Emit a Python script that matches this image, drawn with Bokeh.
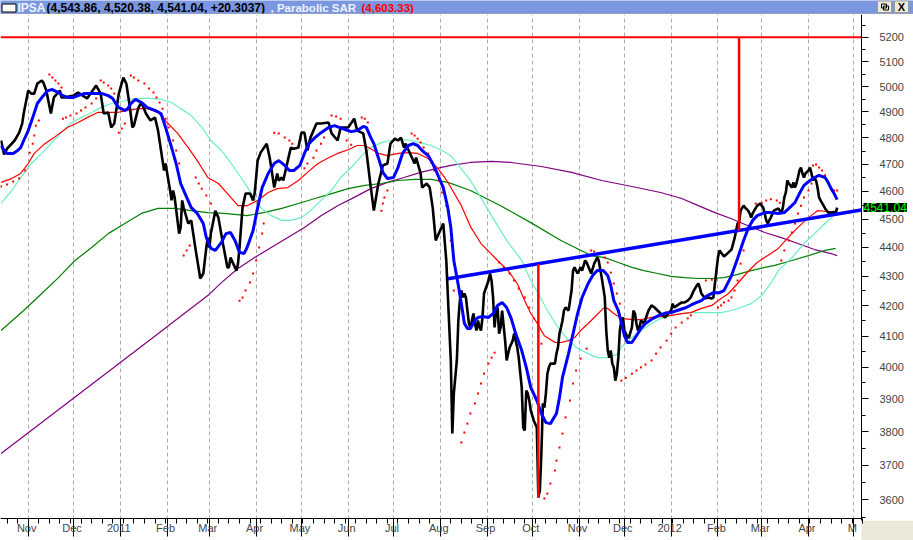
import numpy as np
import pandas as pd
from bokeh.plotting import figure
from bokeh.layouts import column
from bokeh.models import Range1d, FixedTicker, PrintfTickFormatter, Label
from bokeh.core.properties import value
from bokeh.embed import file_html
from bokeh.resources import INLINE

# ---------------- data (days counted from 2010-10-14) ----------------
BASE = pd.Timestamp("2010-10-14")

close_day = [0, 2, 4, 9, 12, 14, 15, 18, 20, 22, 24, 27, 28, 30, 33, 35, 39, 40, 42, 48, 51, 57, 63, 66, 68,
             71, 73, 75, 78, 81, 83, 85, 87, 88, 91, 93, 96, 99, 102, 104, 107, 108, 109, 112, 113, 114,
             115, 118, 119, 120, 121, 124, 126, 129, 132, 134, 136, 137, 138, 139, 142, 144, 147, 150,
             151, 152, 156, 157, 158, 159, 160, 162, 165, 167, 168, 169, 170, 172, 176, 178, 180, 181,
             183, 184, 186, 187, 190, 192, 194, 197, 199, 201, 203, 205, 209, 212, 217, 219, 223, 225,
             230, 234, 236, 240, 242, 245, 247, 250, 253, 256, 258, 261, 263, 265, 267, 268, 271, 274,
             275, 278, 279, 282, 284, 286, 288, 290, 293, 295, 297, 298, 299, 300, 302, 303, 304, 305,
             306, 307, 308, 309, 310, 311, 313, 314, 315, 316, 317, 318, 319, 320, 323, 324, 325, 326,
             327, 328, 329, 330, 331, 332, 334, 335, 336, 337, 339, 340, 341, 342, 343, 345, 346, 347,
             348, 349, 350, 351, 353, 355, 356, 357, 358, 359, 360, 361, 362, 363, 364, 367, 368, 369,
             370, 371, 372, 373, 374, 376, 377, 378, 379, 380, 381, 382, 384, 385, 387, 388, 391, 393,
             395, 396, 398, 400, 401, 402, 403, 404, 405, 406, 407, 408, 409, 410, 411, 412, 413, 414,
             415, 416, 418, 419, 420, 421, 422, 423, 424, 426, 429, 431, 433, 435, 437, 440, 442, 444,
             445, 446, 448, 451, 453, 455, 457, 459, 461, 462, 463, 464, 466, 467, 468, 471, 472, 473,
             474, 475, 476, 477, 479, 482, 484, 486, 488, 489, 490, 492, 493, 495, 496, 497, 498, 499,
             501, 503, 504, 505, 506, 507, 508, 509, 510, 512, 515, 516, 517, 518, 519, 520, 521, 522,
             524, 525, 526, 527, 528, 529, 530, 531, 532, 533, 535, 536, 537, 538, 539, 540, 541, 542,
             543, 545, 546, 548, 550, 552, 553, 554]
close_val = [4790, 4737, 4759, 4790, 4820, 4855, 4894, 4984, 4972, 4972, 5012, 5024, 5016, 4984, 4894,
             4957, 4984, 4957, 4957, 4964, 4976, 4953, 5004, 4972, 4894, 4898, 4840, 4855, 4972, 5036,
             5012, 4933, 4840, 4847, 4917, 4937, 4894, 4867, 4878, 4828, 4714, 4677, 4703, 4603, 4567,
             4603, 4578, 4448, 4470, 4567, 4541, 4484, 4495, 4389, 4292, 4309, 4399, 4434, 4399, 4448,
             4530, 4505, 4413, 4330, 4330, 4364, 4319, 4343, 4399, 4470, 4541, 4592, 4592, 4567, 4592,
             4651, 4714, 4744, 4778, 4725, 4651, 4614, 4666, 4640, 4651, 4640, 4714, 4763, 4759, 4763,
             4820, 4820, 4752, 4801, 4855, 4855, 4859, 4817, 4790, 4840, 4840, 4874, 4828, 4817, 4752,
             4614, 4530, 4629, 4696, 4703, 4778, 4797, 4790, 4801, 4763, 4778, 4741, 4703, 4725, 4666,
             4614, 4629, 4614, 4541, 4424, 4448, 4484, 4354, 4128, 4021, 3794, 3917, 4021, 4151, 4217,
             4251, 4228, 4241, 4228, 4184, 4141, 4128, 4174, 4141, 4118, 4151, 4128, 4118, 4161, 4241,
             4285, 4309, 4285, 4228, 4128, 4184, 4194, 4108, 4128, 4184, 4085, 4021, 4043, 4063, 4085,
             4108, 4085, 4063, 4030, 3935, 3812, 3803, 3926, 3917, 3895, 3864, 3833, 3812, 3606, 3626,
             3734, 3886, 3873, 3917, 3979, 3999, 4011, 4011, 4043, 4063, 4108, 4128, 4151, 4184, 4194,
             4184, 4217, 4251, 4319, 4330, 4319, 4309, 4330, 4319, 4354, 4347, 4309, 4343, 4364, 4354,
             4295, 4228, 4118, 4053, 4030, 4053, 4011, 3999, 3957, 3979, 4030, 4118, 4151, 4161, 4118,
             4108, 4095, 4095, 4128, 4184, 4174, 4141, 4118, 4128, 4151, 4141, 4184, 4201, 4194, 4184,
             4174, 4161, 4174, 4184, 4207, 4194, 4201, 4211, 4211, 4217, 4228, 4251, 4268, 4275, 4261,
             4241, 4228, 4224, 4228, 4224, 4228, 4275, 4319, 4364, 4389, 4382, 4368, 4382, 4392, 4431,
             4484, 4487, 4530, 4548, 4541, 4530, 4520, 4505, 4520, 4530, 4548, 4556, 4548, 4541, 4520,
             4495, 4484, 4495, 4505, 4530, 4538, 4530, 4520, 4541, 4578, 4596, 4640, 4629, 4614, 4633,
             4614, 4629, 4651, 4677, 4688, 4666, 4651, 4666, 4677, 4688, 4666, 4640, 4651, 4640, 4614,
             4578, 4567, 4548, 4538, 4523, 4523, 4525, 4521, 4541.04]

blue_day = [0, 2, 4, 8, 11, 13, 15, 18, 21, 24, 28, 31, 34, 38, 41, 44, 48, 51, 55, 64, 67, 71, 74, 76, 78,
            82, 84, 86, 89, 93, 97, 102, 106, 109, 113, 116, 119, 123, 126, 130, 134, 136, 139, 142, 146,
            149, 152, 155, 158, 161, 163, 167, 170, 173, 177, 181, 184, 188, 191, 194, 198, 201, 204, 208,
            212, 217, 221, 224, 228, 232, 236, 240, 242, 245, 247, 250, 253, 256, 260, 263, 266, 270, 273,
            276, 279, 283, 286, 289, 293, 296, 298, 300, 303, 305, 307, 309, 311, 314, 316, 319, 323, 326,
            329, 332, 335, 338, 341, 345, 348, 351, 355, 358, 361, 364, 368, 370, 372, 376, 379, 382, 385,
            389, 392, 395, 399, 402, 404, 406, 409, 411, 413, 415, 418, 421, 424, 427, 432, 436, 441, 444,
            448, 454, 459, 464, 468, 472, 476, 479, 484, 488, 492, 495, 498, 501, 506, 510, 515, 519, 522,
            526, 529, 532, 536, 539, 542, 546, 548, 550, 552, 554]
blue_val = [4771, 4752, 4741, 4741, 4752, 4763, 4790, 4828, 4878, 4933, 4964, 4984, 4988, 4976, 4964, 4957,
            4957, 4964, 4972, 4972, 4972, 4964, 4953, 4933, 4917, 4906, 4913, 4933, 4949, 4937, 4917, 4906,
            4894, 4840, 4763, 4703, 4629, 4578, 4541, 4520, 4484, 4434, 4396, 4389, 4417, 4448, 4452, 4424,
            4382, 4378, 4399, 4459, 4541, 4614, 4666, 4703, 4714, 4696, 4677, 4677, 4696, 4741, 4778, 4801,
            4820, 4840, 4847, 4840, 4832, 4824, 4828, 4844, 4840, 4801, 4778, 4725, 4670, 4647, 4651, 4688,
            4741, 4771, 4778, 4771, 4752, 4733, 4703, 4666, 4614, 4541, 4470, 4354, 4268, 4207, 4141, 4125,
            4125, 4151, 4161, 4164, 4161, 4174, 4201, 4211, 4194, 4158, 4108, 4053, 3999, 3935, 3895, 3855,
            3827, 3824, 3855, 3904, 3967, 4043, 4108, 4174, 4228, 4275, 4302, 4319, 4319, 4302, 4268, 4217,
            4184, 4144, 4101, 4079, 4079, 4101, 4125, 4141, 4158, 4168, 4177, 4177, 4184, 4194, 4207, 4217,
            4234, 4244, 4244, 4251, 4302, 4361, 4424, 4466, 4495, 4512, 4523, 4523, 4520, 4523, 4538, 4559,
            4592, 4622, 4640, 4651, 4659, 4651, 4633, 4610, 4592, 4570]

red_day = [0, 7, 13, 18, 22, 29, 35, 44, 51, 57, 64, 77, 84, 91, 97, 104, 110, 117, 124, 130, 137, 144,
           150, 157, 163, 170, 177, 183, 190, 197, 203, 210, 217, 223, 230, 236, 241, 245, 250, 256, 263,
           270, 276, 283, 289, 294, 298, 305, 311, 318, 329, 336, 342, 347, 351, 355, 360, 367, 371, 376,
           380, 384, 389, 393, 399, 402, 406, 411, 418, 424, 431, 437, 444, 451, 457, 464, 471, 475, 482,
           488, 495, 501, 508, 515, 521, 528, 535, 541, 548, 554]
red_val = [4633, 4647, 4666, 4703, 4741, 4778, 4801, 4840, 4859, 4878, 4898, 4898, 4906, 4913, 4913, 4898,
           4859, 4817, 4763, 4714, 4651, 4629, 4592, 4548, 4548, 4567, 4596, 4610, 4614, 4640, 4670, 4703,
           4725, 4741, 4755, 4771, 4771, 4759, 4741, 4733, 4741, 4744, 4741, 4722, 4688, 4651, 4614, 4548,
           4473, 4413, 4354, 4319, 4275, 4217, 4174, 4144, 4101, 4079, 4079, 4085, 4095, 4118, 4141, 4161,
           4191, 4191, 4174, 4158, 4154, 4154, 4161, 4164, 4168, 4174, 4177, 4191, 4201, 4217, 4241, 4275,
           4316, 4347, 4371, 4396, 4431, 4470, 4505, 4530, 4527, 4523]

aqua_day = [0, 7, 13, 20, 27, 33, 40, 46, 53, 60, 66, 73, 80, 86, 93, 99, 106, 113, 119, 126, 133, 139,
            146, 152, 159, 166, 172, 179, 186, 192, 199, 205, 212, 219, 225, 232, 239, 245, 252, 258, 265,
            272, 278, 285, 292, 298, 311, 325, 335, 345, 351, 356, 362, 369, 376, 382, 389, 395, 402, 409,
            411, 418, 424, 431, 437, 444, 451, 457, 471, 477, 484, 490, 497, 504, 510, 515, 524, 532, 539,
            546, 550, 553]
aqua_val = [4556, 4603, 4651, 4703, 4741, 4778, 4820, 4855, 4878, 4898, 4917, 4933, 4941, 4949, 4953, 4953,
            4949, 4937, 4913, 4886, 4840, 4790, 4752, 4707, 4651, 4592, 4541, 4512, 4495, 4495, 4505, 4530,
            4567, 4603, 4651, 4688, 4733, 4763, 4782, 4790, 4793, 4790, 4782, 4771, 4752, 4733, 4640, 4512,
            4424, 4354, 4285, 4241, 4184, 4128, 4085, 4060, 4043, 4030, 4030, 4043, 4063, 4095, 4118, 4141,
            4158, 4168, 4174, 4177, 4177, 4177, 4184, 4194, 4207, 4234, 4275, 4319, 4364, 4413, 4448, 4484,
            4505, 4523]

green_day = [0, 15, 27, 38, 49, 60, 71, 82, 93, 104, 115, 126, 137, 148, 163, 174, 186, 197, 208, 219, 230,
             241, 252, 263, 274, 285, 296, 311, 331, 351, 371, 391, 400, 409, 418, 426, 435, 444, 453, 462,
             471, 479, 488, 497, 506, 512, 524, 535, 546, 553]
green_val = [4118, 4184, 4241, 4295, 4354, 4399, 4448, 4484, 4520, 4538, 4538, 4530, 4523, 4520, 4512, 4523,
             4538, 4556, 4574, 4592, 4610, 4622, 4629, 4640, 4644, 4644, 4633, 4603, 4548, 4487, 4424, 4371,
             4364, 4347, 4330, 4319, 4309, 4299, 4295, 4292, 4292, 4295, 4306, 4319, 4330, 4336, 4354, 4371,
             4389, 4396]

purple_day = [0, 33, 66, 99, 124, 137, 146, 157, 168, 179, 190, 201, 212, 223, 234, 245, 256, 267, 278, 289,
              298, 311, 325, 338, 358, 378, 398, 418, 437, 451, 462, 473, 484, 495, 506, 517, 528, 539, 550,
              554]
purple_val = [3734, 3849, 3967, 4089, 4184, 4234, 4278, 4326, 4364, 4399, 4434, 4470, 4512, 4548, 4578, 4610,
              4633, 4651, 4670, 4685, 4696, 4707, 4711, 4707, 4692, 4670, 4640, 4618, 4596, 4574, 4548, 4523,
              4501, 4476, 4452, 4434, 4413, 4392, 4378, 4371]

sar_day = [0, 4, 8, 12, 16, 19, 21, 22, 23, 25,
           32, 34, 36, 38, 40,
           41, 43, 46, 50, 53, 56, 60, 63,
           66, 68, 71, 73, 75,
           78, 80, 82,
           86, 88, 91, 95, 98, 101, 103, 105, 107, 109, 111, 114, 116, 118,
           121, 123, 125,
           129, 131, 133, 136, 139,
           158, 160, 162, 165, 167, 169, 171, 173, 174,
           181, 184, 188, 191, 193, 197,
           201, 203, 207, 209, 212, 214,
           219, 222, 225,
           229, 232,
           239, 241, 243,
           252, 253, 254, 256,
           272, 274, 276, 278, 280, 283, 285, 287, 290, 292, 295, 298, 300,
           305, 307, 309, 311, 314, 316, 318, 320, 323, 325, 327,
           330, 333, 337, 340, 343, 347, 350, 353, 356, 358,
           360, 362, 364, 367, 368, 370, 372, 374, 377, 379, 381, 384, 388,
           391, 393, 396, 400, 402, 404, 406, 408, 410,
           411, 414, 418, 421, 424, 427, 431, 434, 437, 441, 444, 447, 451, 455, 457,
           467, 471,
           475, 477, 479, 482, 484, 486, 488, 490, 492,
           500, 504, 507, 510, 514, 516,
           517, 519, 522, 524, 526, 528, 530, 532, 535, 537,
           538, 540, 542, 544, 546, 548, 550, 552, 554]
sar_val = [4618, 4625, 4636, 4647, 4677, 4744, 4778, 4809, 4847, 4867,
           5048, 5036, 5024, 5012, 4996,
           4874, 4878, 4886, 4894, 4906, 4917, 4933, 4953,
           5024, 5016, 5004, 4992, 4972,
           4820, 4836, 4855,
           5044, 5036, 5024, 5012, 4992, 4976, 4957, 4937, 4913, 4874, 4840, 4790, 4752, 4703,
           4371, 4389, 4406,
           4651, 4629, 4610, 4585, 4556,
           4217, 4228, 4251, 4278, 4309, 4354, 4399, 4448, 4484,
           4820, 4817, 4801, 4790, 4778, 4763,
           4685, 4703, 4725, 4752, 4778, 4801,
           4886, 4882, 4874,
           4790, 4774,
           4878, 4874, 4859,
           4530, 4556, 4578, 4603,
           4817, 4809, 4797, 4782, 4763, 4741, 4707, 4677, 4640, 4596, 4548, 4424, 4251,
           3767, 3797, 3824, 3855, 3886, 3917, 3948, 3979, 4011, 4030, 4046,
           4347, 4330, 4309, 4285, 4258, 4228, 4194, 4158, 4118, 4075,
           3603, 3617, 3646, 3684, 3713, 3752, 3794, 3843, 3895, 3948, 3989, 4027, 4059,
           4389, 4385, 4378, 4364, 4347, 4312, 4275, 4241, 4207,
           3957, 3966, 3979, 3989, 3999, 4008, 4021, 4043, 4063, 4085, 4108, 4128, 4144, 4158, 4168,
           4285, 4288,
           4194, 4201, 4211, 4217, 4228, 4251, 4285, 4343, 4389,
           4556, 4559, 4567, 4571, 4567, 4559,
           4354, 4389, 4424, 4452, 4484, 4520, 4548, 4578, 4603, 4629,
           4696, 4699, 4688, 4677, 4659, 4633, 4610, 4603, 4603.33]

neck_day = [296, 570]
neck_val = [4291, 4532]
target_level = 5200
target_day = [356, 489]
target_top = [4342, 5200]
target_bottom = [3606, 4459]

last_close = 4541.04
title_name = "IPSA"
title_ohlc = "(4,543.86, 4,520.38, 4,541.04, +20.3037)"
title_ind = ", Parabolic SAR"
title_sar = "(4,603.33)"

month_starts = pd.date_range("2010-11-01", "2012-05-01", freq="MS")
month_labels = ["Nov", "Dec", "2011", "Feb", "Mar", "Apr", "May", "Jun", "Jul", "Aug", "Sep", "Oct",
                "Nov", "Dec", "2012", "Feb", "Mar", "Apr", "M"]
week_ticks = pd.date_range("2010-10-18", "2012-05-07", freq="W-MON")
price_ticks = list(range(3600, 5201, 100))
price_minor = list(range(3550, 5251, 50))


def dates(days):
    return BASE + pd.to_timedelta(np.asarray(days, dtype=float), unit="D")


def ms(ts):
    return int(pd.Timestamp(ts).timestamp() * 1000)


# ---------------- layout ----------------
W, H = 913, 540
TH = 14
RB = 52            # width of the price-scale area right of the axis line
FW = W - RB        # width of the chart area
FONT_NAME = "Liberation Sans"
FONT = value(FONT_NAME)

tb = figure(width=W, height=TH, x_range=Range1d(0, W), y_range=Range1d(TH, 0),
            output_backend="svg", toolbar_location=None, min_border=0,
            x_axis_location=None, y_axis_location=None,
            background_fill_color="#7a97df", border_fill_color="#7a97df", outline_line_color=None)
tb.grid.visible = False
tb.quad(left=1.5, right=15.5, top=3.5, bottom=11.5, fill_color="white", line_color="black", line_width=1)
tb.text(x=[17, 46], y=[7, 7], text=[title_name, title_ohlc],
        text_color=["#eef2ff", "black"],
        text_font=FONT, text_font_style="bold", text_font_size="12px", text_baseline="middle")
tb.text(x=[270, 361], y=[7, 7], text=[title_ind, title_sar],
        text_color=["#eef2ff", "red"],
        text_font=FONT, text_font_style="bold", text_font_size="11.5px", text_baseline="middle")
tb.quad(left=[877, 894], right=[891, 908], top=[0.5, 0.5], bottom=[12, 12],
        fill_color="#ece9d8", line_color="#9a9a9a")
tb.quad(left=[881, 883], right=[886, 888], top=[3.5, 5.5], bottom=[7.5, 9.5],
        fill_color=None, line_color="black", line_width=1)
tb.text(x=[901], y=[6.5], text=["X"], text_font=FONT, text_font_style="bold",
        text_font_size="11px", text_align="center", text_baseline="middle", text_color="black")
tb.segment(x0=[0], y0=[13.5], x1=[W], y1=[13.5], line_color="#a8a8a8", line_width=1)

x_start = pd.Timestamp("2010-10-13 15:00")
x_axis_at = pd.Timestamp("2012-05-06 03:00")          # date under the price-scale line
x_end = x_start + (x_axis_at - x_start) * (W / FW)     # canvas extends under the price scale
y_axis_at = 3546                                       # price level of the time-axis line
y_low, y_high = 3484.5, 5295                           # canvas extends under the time axis
corner_top = 3540

p = figure(width=W, height=H - TH, x_axis_type="datetime", y_axis_type="log",
           x_range=Range1d(x_start, x_end), y_range=Range1d(y_low, y_high),
           y_axis_location="right", output_backend="svg", toolbar_location=None,
           min_border_left=0, min_border_right=0, min_border_top=0, min_border_bottom=0,
           background_fill_color="white", border_fill_color="white", outline_line_color=None)

# time axis
xa = p.xaxis[0]
xa.fixed_location = y_axis_at
xa.ticker = FixedTicker(ticks=[ms(t) for t in month_starts], minor_ticks=[ms(t) for t in week_ticks])
xa.major_label_overrides = {ms(t): " " + lab for t, lab in zip(month_starts, month_labels)}
xa.bounds = (ms(x_start), ms(x_axis_at))
xa.major_label_text_align = "left"
xa.major_label_standoff = -15
xa.major_tick_out = 18
xa.major_tick_in = 0
xa.minor_tick_out = 5
xa.minor_tick_in = 0
xa.major_label_text_font = FONT_NAME
xa.major_label_text_font_size = "11px"
xa.axis_line_color = "black"
xa.major_tick_line_color = "black"
xa.minor_tick_line_color = "black"

# price axis
ya = p.yaxis[0]
ya.fixed_location = ms(x_axis_at)
ya.bounds = (corner_top, y_high)
ya.ticker = FixedTicker(ticks=price_ticks, minor_ticks=price_minor)
ya.formatter = PrintfTickFormatter(format="%d")
ya.major_tick_out = 7
ya.major_tick_in = 0
ya.minor_tick_out = 4
ya.minor_tick_in = 0
ya.major_label_standoff = 11
ya.major_label_text_font = FONT_NAME
ya.major_label_text_font_size = "11px"
ya.axis_line_color = "black"

p.xgrid.grid_line_color = "#acacac"
p.xgrid.grid_line_dash = "4 3"
p.ygrid.visible = False

# strip under the time axis stays blank; grey corner box right of it
p.quad(left=[x_start], right=[x_axis_at], bottom=[y_low], top=[y_axis_at],
       fill_color="white", line_color=None)
p.quad(left=[x_axis_at], right=[x_end], bottom=[y_low], top=[corner_top],
       fill_color="#ece9d8", line_color=None)

# moving averages
p.line(dates(purple_day), purple_val, line_color="#800080", line_width=1.2)
p.line(dates(green_day), green_val, line_color="#008000", line_width=1.2)
p.line(dates(aqua_day), aqua_val, line_color="#66eec8", line_width=1.2)
p.line(dates(red_day), red_val, line_color="#ff0000", line_width=1.2)
# parabolic SAR
p.scatter(dates(sar_day), sar_val, marker="square", size=2, fill_color="red", line_color=None)
# price
p.line(dates(close_day), close_val, line_color="black", line_width=2.6)
p.line(dates(blue_day), blue_val, line_color="#0000ff", line_width=3)
# neckline & targets
p.line(dates(neck_day), neck_val, line_color="#0000ff", line_width=3.5)
p.segment(x0=[x_start], y0=[target_level], x1=[x_axis_at], y1=[target_level],
          line_color="red", line_width=2)
p.segment(x0=dates(target_day), y0=target_top, x1=dates(target_day), y1=target_bottom,
          line_color="red", line_width=2.5)

# last-price tag beside the price scale
p.add_layout(Label(x=ms(x_axis_at), y=last_close, x_offset=2, text=f"{last_close:.2f}",
                   text_color="#00ff00", background_fill_color="black",
                   text_font=FONT_NAME, text_font_size="12px", text_baseline="middle", text_align="left"))

layout = column(tb, p, spacing=0)
open("out.html", "w").write(file_html(layout, INLINE))
